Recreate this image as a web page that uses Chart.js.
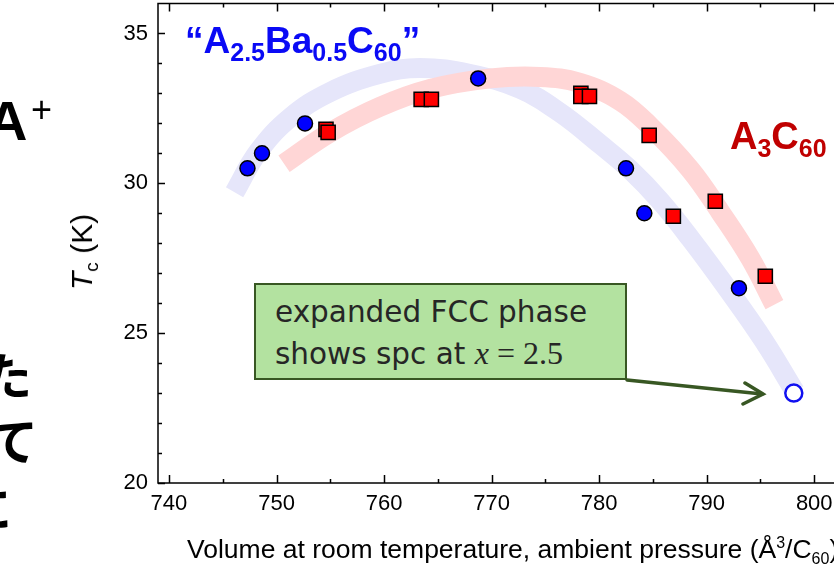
<!DOCTYPE html>
<html>
<head>
<meta charset="utf-8">
<script src="https://cdn.jsdelivr.net/npm/chart.js@4/dist/chart.umd.min.js"></script>
<style>
  html, body { margin: 0; padding: 0; background: #fff; }
  #wrap { position: relative; width: 834px; height: 576px; overflow: hidden; }
  #c { position: absolute; left: 0; top: -8px; }
  .t { position: absolute; white-space: nowrap; line-height: 1; }
  .lab { font-family: "Liberation Sans", Arial, sans-serif; font-weight: bold; }
  .lab sub { font-size: 25px; line-height: 1; vertical-align: -8px; }
  .jp { font-family: "Noto Sans CJK JP", sans-serif; font-weight: bold; font-size: 50px; color: #000; }
  #box {
    position: absolute; left: 254px; top: 283px; width: 373px; height: 97px;
    box-sizing: border-box; background: #b3e2a0; border: 2.5px solid #385723;
  }
  .bx { font-family: "DejaVu Sans", sans-serif; font-size: 29.5px; color: #262626; }
  .m { font-family: "Liberation Serif", "Times New Roman", serif; font-size: 32px; }
</style>
</head>
<body>
<div id="wrap">
  <canvas id="c" width="900" height="584"></canvas>

  <!-- cropped slide text at the left edge -->
  <div class="t lab" style="left:-13px; top:93px; font-size:56px; color:#000;">A</div>
  <div class="t" style="left:31px; top:92px; font-size:36px; font-family:'Liberation Sans',Arial,sans-serif;">+</div>
  <div class="t jp" style="left:-18px; top:348px;">た</div>
  <div class="t jp" style="left:-12px; top:413px;">て</div>
  <div class="t jp" style="left:-38px; top:480px;">に</div>

  <!-- axis titles -->
  <div class="t" style="left:84px; top:252px; font-family:'Liberation Sans',Arial,sans-serif; font-size:30px; transform: translate(-50%,-50%) rotate(-90deg); transform-origin: 50% 50%;"><i>T</i><sub style="font-size:19px; vertical-align:-6px;">c</sub> (K)</div>
  <div class="t" style="left:187px; top:535px; font-family:'Liberation Sans',Arial,sans-serif; font-size:26.5px;">Volume at room temperature, ambient pressure (Å<sup style="font-size:16px; vertical-align:10px;">3</sup>/C<sub style="font-size:16px; vertical-align:-6px;">60</sub>)</div>

  <!-- series labels -->
  <div class="t lab" style="left:185px; top:22px; font-size:37px; color:#0a0af5;">“A<sub>2.5</sub>Ba<sub>0.5</sub>C<sub>60</sub>”</div>
  <div class="t lab" style="left:730px; top:117px; font-size:38px; color:#c00000;">A<sub>3</sub>C<sub>60</sub></div>

  <!-- callout -->
  <div id="box">
    <div class="t bx" style="left:19px; top:13px;">expanded FCC phase</div>
    <div class="t bx" style="left:19px; top:52px;">shows spc at <span class="m"><i>x</i> = 2.5</span></div>
  </div>
  <svg class="t" style="left:0; top:0;" width="834" height="576">
    <g stroke="#385723" stroke-width="3.5" fill="none" stroke-linecap="round">
      <line x1="627" y1="380" x2="762" y2="394"/>
      <polyline points="745,383 763,394 743,404"/>
    </g>
  </svg>
</div>

<script>
// A2.5Ba0.5C60 (blue circles)
var blueX = [747.3, 748.65, 752.65, 768.75, 782.5, 784.2, 793.0];
var blueY = [30.5, 31.0, 32.0, 33.5, 30.5, 29.0, 26.5];
// x = 2.5 expanded FCC (open circle)
var openX = [798.1];
var openY = [23.0];
// A3C60 (red squares)
var redX = [754.6, 754.8, 763.45, 764.4, 778.3, 778.3, 779.1, 784.65, 786.9, 790.8, 795.45];
var redY = [31.8, 31.7, 32.8, 32.8, 33.0, 32.9, 32.9, 31.6, 28.9, 29.4, 26.9];

// guide-to-the-eye bands
var bandBlueX = [746.1, 748.3, 751.3, 755.0, 759.6, 763.35, 768.0, 772.65, 776.4, 780.1, 782.9, 785.7, 788.5, 792.0, 795.3, 798.2];
var bandBlueY = [29.7, 31.05, 32.2, 33.05, 33.65, 33.85, 33.65, 33.15, 32.35, 31.3, 30.45, 29.4, 28.15, 26.45, 24.75, 23.05];
var bandRedX = [750.7, 755.0, 759.6, 764.3, 769.9, 774.5, 778.2, 781.95, 784.75, 788.5, 791.25, 794.05, 796.3];
var bandRedY = [30.65, 31.7, 32.55, 33.15, 33.5, 33.55, 33.35, 32.75, 31.9, 30.45, 29.05, 27.5, 25.95];

// axes
var xTicks = [740, 750, 760, 770, 780, 790, 800];
var xMinorTicks = [745, 755, 765, 775, 785, 795, 805];
var yTicks = [20, 25, 30, 35];
var yMinorTicks = [21, 22, 23, 24, 26, 27, 28, 29, 31, 32, 33, 34];

function pts(xs, ys) {
    return xs.map(function (v, i) { return {x: v, y: ys[i]}; });
}

var tickFont = {family: "'Liberation Sans', Arial, sans-serif", size: 22};

// box frame with inward ticks
var framePlugin = {
    id: 'frame',
    beforeDatasetsDraw: function (chart) {
        var ctx = chart.ctx, a = chart.chartArea, x = chart.scales.x, y = chart.scales.y;
        ctx.save();
        ctx.strokeStyle = '#000';
        ctx.lineWidth = 1.5;
        ctx.strokeRect(a.left, a.top, a.right - a.left, a.bottom - a.top);
        ctx.beginPath();
        function xt(list, len) {
            list.forEach(function (v) {
                var p = Math.round(x.getPixelForValue(v)) + 0.5;
                ctx.moveTo(p, a.bottom); ctx.lineTo(p, a.bottom - len);
                ctx.moveTo(p, a.top); ctx.lineTo(p, a.top + len);
            });
        }
        function yt(list, len) {
            list.forEach(function (v) {
                var p = Math.round(y.getPixelForValue(v)) + 0.5;
                ctx.moveTo(a.left, p); ctx.lineTo(a.left + len, p);
                ctx.moveTo(a.right, p); ctx.lineTo(a.right - len, p);
            });
        }
        xt(xTicks, 8); xt(xMinorTicks, 4);
        yt(yTicks, 7); yt(yMinorTicks, 4);
        ctx.stroke();
        ctx.restore();
    }
};

var ctx = document.getElementById('c').getContext('2d');
var chart = new Chart(ctx, {
    type: 'scatter',
    data: {
        datasets: [
            {   // open circle
                data: pts(openX, openY), order: 0,
                pointStyle: 'circle', pointRadius: 8.5, pointBackgroundColor: '#fff',
                pointBorderColor: '#1010f0', pointBorderWidth: 2.5
            },
            {   // A3C60
                data: pts(redX, redY), order: 1,
                pointStyle: 'rect', pointRadius: 10, pointBackgroundColor: '#ff0000',
                pointBorderColor: '#000', pointBorderWidth: 1.5
            },
            {   // A2.5Ba0.5C60
                data: pts(blueX, blueY), order: 2,
                pointStyle: 'circle', pointRadius: 7.5, pointBackgroundColor: '#0000ff',
                pointBorderColor: '#000', pointBorderWidth: 1.5
            },
            {   // red band
                type: 'line', data: pts(bandRedX, bandRedY), order: 3,
                showLine: true, borderColor: '#ffd6d6', borderWidth: 20, borderCapStyle: 'butt',
                pointRadius: 0, tension: 0.4, fill: false
            },
            {   // blue band
                type: 'line', data: pts(bandBlueX, bandBlueY), order: 4,
                showLine: true, borderColor: '#e6e6fa', borderWidth: 20, borderCapStyle: 'butt',
                pointRadius: 0, tension: 0.4, fill: false
            }
        ]
    },
    options: {
        responsive: false,
        animation: false,
        devicePixelRatio: 1,
        layout: {padding: {top: 4, right: 32, left: 0, bottom: 0}},
        plugins: {legend: {display: false}, tooltip: {enabled: false}},
        scales: {
            x: {
                type: 'linear', min: 738.98, max: 805,
                grid: {display: false, drawTicks: false}, border: {display: false},
                afterBuildTicks: function (s) { s.ticks = xTicks.map(function (v) { return {value: v}; }); },
                afterFit: function (s) { s.height = 93; s.paddingLeft = 0; s.paddingRight = 0; },
                ticks: {font: tickFont, color: '#000', padding: 8, maxRotation: 0, autoSkip: false}
            },
            y: {
                type: 'linear', min: 20, max: 36,
                grid: {display: false, drawTicks: false}, border: {display: false},
                afterBuildTicks: function (s) { s.ticks = yTicks.map(function (v) { return {value: v}; }); },
                afterFit: function (s) { s.width = 158; s.paddingTop = 0; s.paddingBottom = 0; },
                ticks: {font: tickFont, color: '#000', padding: 10, autoSkip: false}
            }
        }
    },
    plugins: [framePlugin]
});
</script>
</body>
</html>
